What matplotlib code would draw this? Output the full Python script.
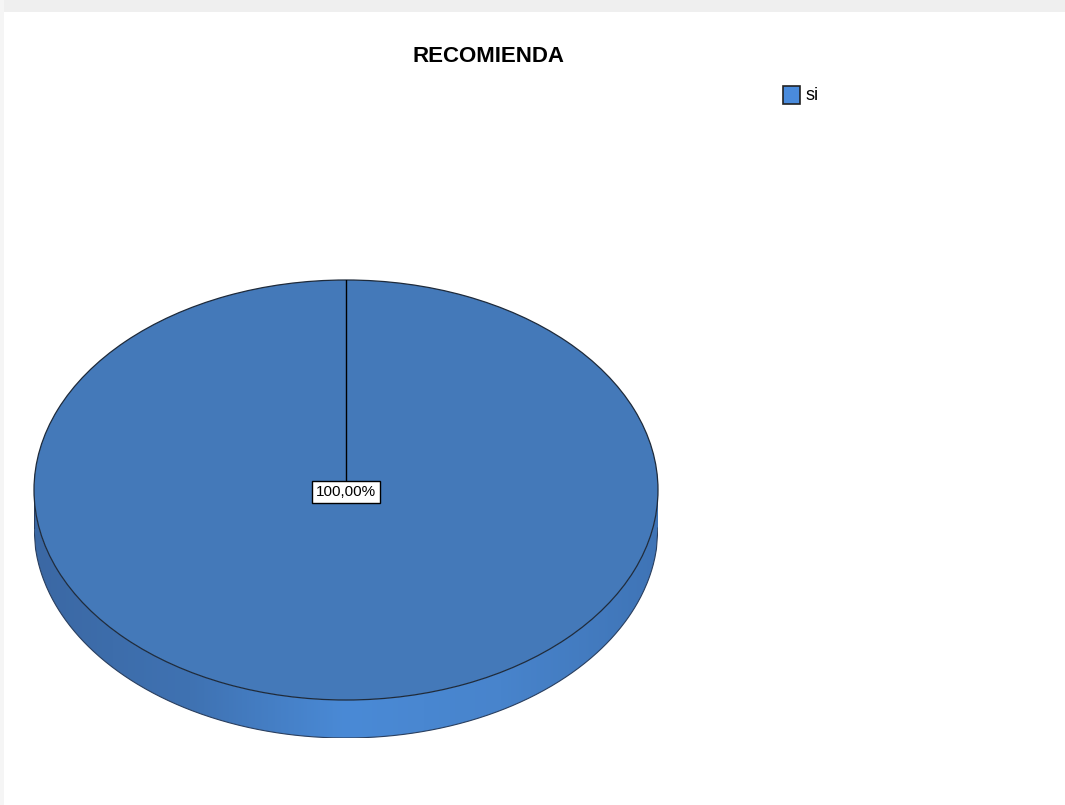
import numpy as np
import matplotlib.pyplot as plt
from matplotlib.patches import Rectangle, Polygon
import matplotlib.colors as mcolors

# data
categories = ["si"]
percentages = [100.0]
title = "RECOMIENDA"

TOP_COLOR = "#4479b9"
SIDE_DARK = "#3b68a4"
SIDE_LIGHT = "#4a8ad6"
LEGEND_COLOR = "#4a8bdc"
FONTS = ["Liberation Sans Narrow", "Liberation Sans", "DejaVu Sans"]

W, H = 1065, 805
fig = plt.figure(figsize=(W / 100, H / 100), dpi=100)
fig.patch.set_facecolor("white")

# thin grey frame strips along the top and left edge
fig.patches.append(Rectangle((0, 1 - 12 / H), 1, 12 / H, transform=fig.transFigure,
                             facecolor="#efefef", edgecolor="none", zorder=0))
fig.patches.append(Rectangle((0, 0), 4 / W, 1, transform=fig.transFigure,
                             facecolor="#f5f5f5", edgecolor="none", zorder=0))

# pie geometry in pixels: top ellipse + extruded side
cx, cy = 346, 490
rx, ry = 312, 210
depth = 38
d = depth / ry

left = (cx - rx) / W
bottom = (H - (cy + ry + depth)) / H
ax = fig.add_axes([left, bottom, 2 * rx / W, (2 * ry + depth) / H])

# top face
wedges, _ = ax.pie(percentages, colors=[TOP_COLOR], startangle=90, counterclock=False,
                   radius=1, center=(0, 0), frame=True,
                   wedgeprops=dict(edgecolor="#1e2a3a", linewidth=0.9))
for w in wedges:
    w.set_zorder(3)
ax.set_xlim(-1, 1)
ax.set_ylim(-1 - d, 1)
ax.set_aspect("auto")
ax.axis("off")

# side band, shaded from dark on the left to light at the front
cmap = mcolors.LinearSegmentedColormap.from_list(
    "side", [SIDE_DARK, "#3f72b2", SIDE_LIGHT, "#4884cc", "#3f74b6"])
xx = np.linspace(-1, 1, 400)
upper = -np.sqrt(1 - xx ** 2)
band = np.concatenate([np.column_stack([xx, upper]),
                       np.column_stack([xx[::-1], upper[::-1] - d])])
clip = Polygon(band, closed=True, transform=ax.transData, facecolor="none", edgecolor="none")
ax.add_patch(clip)
grad = np.linspace(0, 1, 256).reshape(1, -1)
img = ax.imshow(grad, cmap=cmap, extent=(-1, 1, -1 - d, 0), aspect="auto",
                interpolation="bilinear", zorder=1)
img.set_clip_path(clip)
ax.plot(xx, upper - d, color="#2a3f5f", lw=0.8, zorder=2)
ax.plot([-1, -1], [0, -d], color="#2a3f5f", lw=0.8, zorder=2)
ax.plot([1, 1], [0, -d], color="#2a3f5f", lw=0.8, zorder=2)
ax.set_xlim(-1, 1)
ax.set_ylim(-1 - d, 1)
ax.set_aspect("auto")

# radial edge of the slice
ang = np.deg2rad(90)
ax.plot([0, np.cos(ang)], [0, np.sin(ang)], color="black", lw=1, zorder=4)

# value label
ax.text(0, -0.01, f"{percentages[0]:.2f}%".replace(".", ","), ha="center", va="center",
        fontsize=11, family=FONTS, zorder=5,
        bbox=dict(boxstyle="square,pad=0.25", facecolor="white", edgecolor="black", linewidth=1))

# title
fig.text(488 / W, 1 - 56 / H, title, ha="center", va="center", fontsize=16,
         fontweight="bold", family=FONTS)

# legend
fig.patches.append(Rectangle((783 / W, 1 - 104 / H), 17 / W, 18 / H, transform=fig.transFigure,
                             facecolor=LEGEND_COLOR, edgecolor="#222222", linewidth=1.2))
fig.text(805 / W, 1 - 96 / H, categories[0], ha="left", va="center", fontsize=13, family=FONTS)

fig.savefig("out.png", dpi=100)
